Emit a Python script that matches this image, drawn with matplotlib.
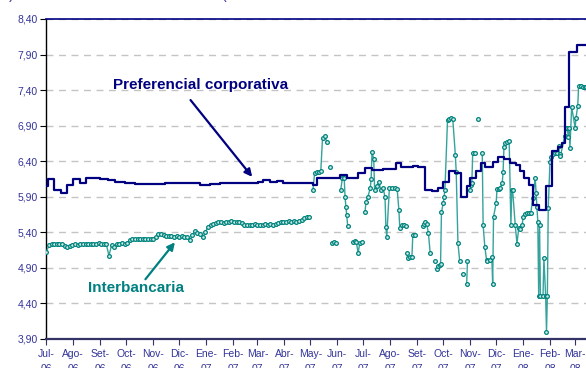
import numpy as np
import pandas as pd
import matplotlib
matplotlib.use("Agg")
import matplotlib.pyplot as plt
from matplotlib.ticker import FixedLocator, FuncFormatter

plt.rcParams['font.family'] = ['Liberation Sans', 'DejaVu Sans']

# Preferencial corporativa: fecha de cambio y nivel vigente desde esa fecha
pref_dates = ["2006-07-01", "2006-07-03", "2006-07-10", "2006-07-18", "2006-07-25",
              "2006-08-01", "2006-08-09", "2006-08-15", "2006-08-23", "2006-09-01",
              "2006-09-10", "2006-09-18", "2006-09-30", "2006-10-11", "2006-11-15",
              "2006-12-25", "2006-12-30", "2007-01-05", "2007-01-17", "2007-03-02",
              "2007-03-08", "2007-03-16", "2007-03-24", "2007-03-30", "2007-05-04",
              "2007-05-09", "2007-06-04", "2007-06-12", "2007-06-25", "2007-07-03",
              "2007-07-11", "2007-07-24", "2007-08-08", "2007-08-13", "2007-08-27",
              "2007-09-02", "2007-09-10", "2007-09-18", "2007-09-25", "2007-10-01",
              "2007-10-08", "2007-10-15", "2007-10-22", "2007-10-29", "2007-11-01",
              "2007-11-08", "2007-11-13", "2007-11-18", "2007-11-27", "2007-12-03",
              "2007-12-10", "2007-12-17", "2007-12-24", "2007-12-28", "2008-01-02",
              "2008-01-08", "2008-01-12", "2008-01-19", "2008-01-27", "2008-02-03",
              "2008-02-10", "2008-02-15", "2008-02-18", "2008-02-23", "2008-03-03",
              "2008-03-20"]
pref_vals = [6.05, 6.15, 5.99, 5.95, 6.07,
             6.15, 6.10, 6.16, 6.17, 6.15,
             6.13, 6.11, 6.10, 6.08, 6.10,
             6.07, 6.06, 6.08, 6.10, 6.11,
             6.13, 6.11, 6.12, 6.10, 6.07,
             6.17, 6.20, 6.17, 6.24, 6.30,
             6.28, 6.29, 6.38, 6.32, 6.33,
             6.32, 6.00, 5.98, 6.02, 6.11,
             6.26, 6.24, 5.89, 6.05, 6.17,
             6.26, 6.38, 6.32, 6.39, 6.46,
             6.43, 6.37, 6.34, 6.26, 6.16,
             6.07, 5.79, 5.71, 6.05, 6.55,
             6.60, 6.66, 7.16, 7.94, 8.04,
             8.04]

# Interbancaria, julio 2006 - abril 2007 (una observación cada 3 días)
inter_start = "2006-07-01"
inter_vals_1 = [5.13, 5.22, 5.24, 5.23, 5.24, 5.23, 5.23, 5.21, 5.20, 5.21,
                5.22, 5.23, 5.22, 5.23, 5.24, 5.23, 5.24, 5.24, 5.23, 5.24,
                5.25, 5.24, 5.24, 5.23, 5.07, 5.22, 5.20, 5.23, 5.24, 5.25,
                5.24, 5.25, 5.29, 5.30, 5.30, 5.31, 5.30, 5.30, 5.31, 5.30,
                5.31, 5.31, 5.33, 5.37, 5.38, 5.36, 5.35, 5.35, 5.35, 5.34,
                5.35, 5.34, 5.35, 5.34, 5.34, 5.29, 5.36, 5.42, 5.39, 5.38,
                5.33, 5.40, 5.48, 5.50, 5.52, 5.53, 5.54, 5.54, 5.53, 5.55,
                5.55, 5.56, 5.55, 5.54, 5.55, 5.53, 5.51, 5.50, 5.51, 5.50,
                5.52, 5.50, 5.51, 5.51, 5.52, 5.51, 5.52, 5.51, 5.52, 5.53,
                5.54, 5.55, 5.54, 5.56, 5.55, 5.56, 5.55, 5.56, 5.57, 5.60,
                5.62, 5.62]

# Interbancaria, mayo 2007 - marzo 2008 (None = sin operaciones)
inter_dates_2 = ["2007-05-02",
                 "2007-05-04", "2007-05-06", "2007-05-09", "2007-05-11", "2007-05-13",
                 "2007-05-15", "2007-05-18", "2007-05-20", "2007-05-22",
                 "2007-05-24", "2007-05-25",
                 "2007-05-26", "2007-05-28", "2007-05-31", "2007-06-02",
                 "2007-06-05", "2007-06-07", "2007-06-09", "2007-06-10", "2007-06-11",
                 "2007-06-12", "2007-06-13", "2007-06-16",
                 "2007-06-19", "2007-06-21", "2007-06-23", "2007-06-25", "2007-06-27",
                 "2007-06-29", "2007-07-01",
                 "2007-07-03", "2007-07-04", "2007-07-06", "2007-07-09", "2007-07-10",
                 "2007-07-11", "2007-07-13", "2007-07-14", "2007-07-17", "2007-07-19",
                 "2007-07-21", "2007-07-24", "2007-07-26", "2007-07-27", "2007-07-28",
                 "2007-07-31", "2007-08-03", "2007-08-06", "2007-08-09", "2007-08-11",
                 "2007-08-12", "2007-08-14", "2007-08-17", "2007-08-19", "2007-08-19",
                 "2007-08-20", "2007-08-21", "2007-08-24", "2007-08-26", "2007-08-27",
                 "2007-08-29", "2007-09-03",
                 "2007-09-08", "2007-09-09", "2007-09-10", "2007-09-12", "2007-09-14",
                 "2007-09-16", "2007-09-18",
                 "2007-09-21", "2007-09-22",
                 "2007-09-24", "2007-09-25", "2007-09-27", "2007-09-28", "2007-09-29",
                 "2007-10-01", "2007-10-02", "2007-10-03", "2007-10-06", "2007-10-08",
                 "2007-10-10", "2007-10-12", "2007-10-15", "2007-10-16", "2007-10-18",
                 "2007-10-20", "2007-10-22",
                 "2007-10-24", "2007-10-26",
                 "2007-10-28", "2007-10-29", "2007-10-30",
                 "2007-11-01", "2007-11-02", "2007-11-03", "2007-11-04", "2007-11-07",
                 "2007-11-08",
                 "2007-11-10", "2007-11-12",
                 "2007-11-15", "2007-11-16", "2007-11-18", "2007-11-20", "2007-11-21",
                 "2007-11-24", "2007-11-26", "2007-11-27", "2007-11-28", "2007-12-01",
                 "2007-12-02", "2007-12-04", "2007-12-05", "2007-12-08", "2007-12-09",
                 "2007-12-10", "2007-12-11", "2007-12-13", "2007-12-16", "2007-12-18",
                 "2007-12-19", "2007-12-20", "2007-12-23", "2007-12-25", "2007-12-27",
                 "2007-12-28", "2007-12-31", "2008-01-01", "2008-01-03", "2008-01-05",
                 "2008-01-08", "2008-01-10", "2008-01-12", "2008-01-15", "2008-01-16",
                 "2008-01-17", "2008-01-18", "2008-01-19", "2008-01-20", "2008-01-21",
                 "2008-01-24", "2008-01-25", "2008-01-27", "2008-01-28", "2008-01-29",
                 "2008-01-30", "2008-02-01", "2008-02-02", "2008-02-04", "2008-02-07",
                 "2008-02-09", "2008-02-11", "2008-02-12", "2008-02-13", "2008-02-18",
                 "2008-02-20", "2008-02-21", "2008-02-22", "2008-02-23", "2008-02-24",
                 "2008-02-26", "2008-03-01", "2008-03-02", "2008-03-04", "2008-03-05",
                 "2008-03-08", "2008-03-10", "2008-03-12", "2008-03-14"]
inter_vals_2 = [None,
                6.00, 6.24, 6.25, 6.25, 6.26,
                6.72, 6.75, 6.67, None,
                6.32, None,
                5.25, 5.26, 5.25, None,
                6.00, 6.17, 6.16, 5.89, 5.76,
                5.64, 5.49, None,
                5.27, 5.28, 5.26, 5.11, 5.25,
                5.26, None,
                5.69, 5.82, 5.89, 6.02, 6.15,
                6.53, 6.43, 6.00, 6.05, 6.11,
                6.00, 6.02, 5.89, 5.48, 5.33,
                6.02, 6.02, 6.02, 6.01, 5.71,
                5.46, 5.50, 5.50, 5.49, None,
                5.11, 5.04, 5.06, 5.06, 5.36,
                5.36, None,
                5.49, 5.52, 5.54, 5.52, 5.39,
                5.11, None,
                5.00, None,
                4.89, 4.92, 4.94, 4.96, 5.68,
                5.81, 5.89, 6.00, 6.98, 7.00,
                7.01, 7.00, 6.49, 6.25, 5.25,
                5.00, None,
                4.82, None,
                4.67, 5.00, None,
                6.00, 6.07, 6.10, 6.51, 6.52,
                None,
                7.00, None,
                6.51, 5.50, 5.19, 5.01, 5.00,
                5.01, 5.05, 4.67, 5.62, 5.81,
                6.01, 6.01, 6.02, 6.09, 6.25,
                6.60, 6.65, 6.67, 6.69, 5.50,
                5.99, 5.99, 5.50, 5.24, 5.46,
                5.45, 5.50, 5.61, 5.66, 5.67,
                5.67, 5.67, 5.88, 6.16, 5.95,
                5.76, 5.55, 4.51, 5.50, 4.51,
                4.51, 5.04, 4.51, 4.00, 4.51,
                5.74, 6.39, 6.46, 6.50, 6.51,
                6.52, 6.61, 6.50, 6.47, 6.76,
                6.87, 6.87, 6.74, 6.87, 6.59,
                7.16, 6.87, 7.01, 7.18, 7.46,
                7.46, 7.45, 7.45, 7.45]

month_labels = ["Jul-\n06", "Ago-\n06", "Set-\n06", "Oct-\n06", "Nov-\n06", "Dic-\n06",
                "Ene-\n07", "Feb-\n07", "Mar-\n07", "Abr-\n07", "May-\n07", "Jun-\n07",
                "Jul-\n07", "Ago-\n07", "Set-\n07", "Oct-\n07", "Nov-\n07", "Dic-\n07",
                "Ene-\n08", "Feb-\n08", "Mar-\n08"]
y_ticks = [3.90, 4.40, 4.90, 5.40, 5.90, 6.40, 6.90, 7.40, 7.90, 8.40]

NAVY = "#000080"
TEAL = "#008080"
TICK_COLOR = "#333399"

pref_x = pd.to_datetime(pref_dates)
inter_x = np.concatenate([
    pd.date_range(inter_start, periods=len(inter_vals_1), freq="3D").values,
    pd.to_datetime(inter_dates_2).values])
inter_y = np.array(inter_vals_1 + [np.nan if v is None else v for v in inter_vals_2],
                   dtype=float)
month_ticks = pd.date_range("2006-07-01", periods=len(month_labels), freq="MS")

fig = plt.figure(figsize=(5.86, 3.68), dpi=100)
ax = fig.add_axes([46 / 586, 1 - 339 / 368, 1 - 46 / 586, 320 / 368])

ax.set_ylim(3.90, 8.40)
x0 = pd.Timestamp("2006-07-01") - pd.Timedelta(hours=12)
ax.set_xlim(x0, x0 + pd.Timedelta(days=622))

ax.yaxis.set_major_locator(FixedLocator(y_ticks))
ax.yaxis.set_major_formatter(FuncFormatter(lambda v, p: f"{v:.2f}".replace(".", ",")))
ax.set_xticks(month_ticks)
ax.set_xticklabels(month_labels)

ax.yaxis.grid(True, linestyle=(0, (5, 4)), color="#c4c4c4", linewidth=1.0)
ax.set_axisbelow(True)

ax.tick_params(axis="y", direction="out", length=4, width=0.8, color="black",
               labelcolor=TICK_COLOR, labelsize=7.5, pad=2)
ax.tick_params(axis="x", direction="out", length=4, width=0.8, color="#333366",
               labelcolor=TICK_COLOR, labelsize=7.5, pad=3)
for lab in ax.get_xticklabels():
    lab.set_linespacing(1.6)

ax.spines["left"].set_color("black")
ax.spines["left"].set_linewidth(1.0)
ax.spines["bottom"].set_color("#333366")
ax.spines["bottom"].set_linewidth(1.6)
ax.spines["top"].set_color(NAVY)
ax.spines["top"].set_linewidth(1.2)
ax.spines["right"].set_visible(False)

ax.plot(inter_x, inter_y, color="#35a39b", linewidth=1.0, marker="o",
        markersize=2.7, markerfacecolor="#cfeae6", markeredgecolor="#00837d",
        markeredgewidth=0.9, zorder=3)
ax.plot(pref_x, pref_vals, drawstyle="steps-post", color=NAVY, linewidth=1.6,
        zorder=4)

ax.text(pd.Timestamp("2006-12-26"), 7.47, "Preferencial corporativa", color=NAVY,
        fontsize=11, fontweight="bold", ha="center", va="center")
ax.annotate("", xy=(pd.Timestamp("2007-02-23"), 6.18),
            xytext=(pd.Timestamp("2006-12-14"), 7.26),
            arrowprops=dict(arrowstyle="-|>", color=NAVY, lw=1.6,
                            mutation_scale=11, shrinkA=0, shrinkB=0))

ax.text(pd.Timestamp("2006-10-12"), 4.62, "Interbancaria", color=TEAL,
        fontsize=11, fontweight="bold", ha="center", va="center")
ax.annotate("", xy=(pd.Timestamp("2006-11-26"), 5.26),
            xytext=(pd.Timestamp("2006-10-23"), 4.74),
            arrowprops=dict(arrowstyle="-|>", color=TEAL, lw=1.6,
                            mutation_scale=11, shrinkA=0, shrinkB=0))

fig.text(14 / 586, 1 + 1 / 368, "(%)", color=TICK_COLOR, fontsize=10,
         ha="right", va="baseline")
fig.text(221 / 586, 1 + 1 / 368, "(", color=TICK_COLOR, fontsize=10,
         ha="left", va="baseline")

fig.savefig("out.png", dpi=100)
